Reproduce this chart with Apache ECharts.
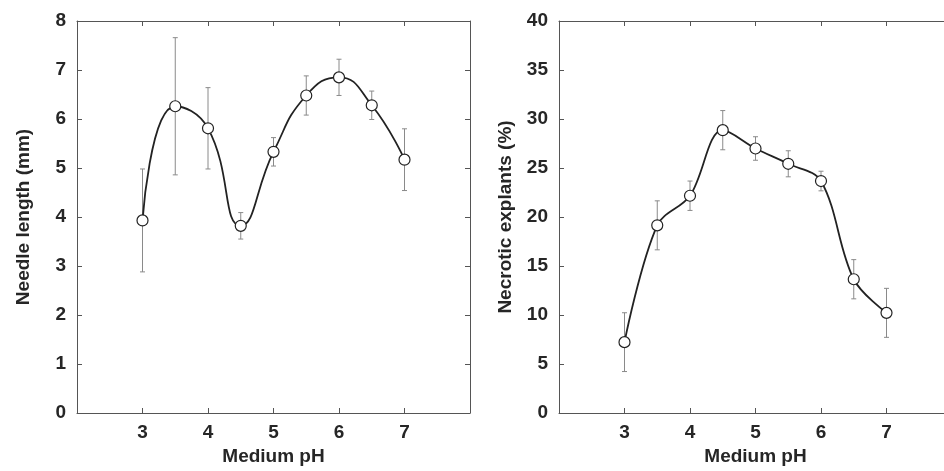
<!DOCTYPE html>
<html>
<head>
<meta charset="utf-8">
<script src="https://cdn.jsdelivr.net/npm/echarts@6/dist/echarts.min.js"></script>
<style>
  html, body { margin: 0; padding: 0; background: #fff; }
  #chart { width: 944px; height: 471px; }
</style>
</head>
<body>
<div id="chart"></div>
<script>
// Medium pH levels tested
const ph = [3, 3.5, 4, 4.5, 5, 5.5, 6, 6.5, 7];
// Needle length (mm), mean and error
const needleLength = [3.93, 6.26, 5.81, 3.82, 5.33, 6.48, 6.85, 6.28, 5.17];
const needleErr = [1.05, 1.4, 0.83, 0.27, 0.29, 0.4, 0.37, 0.29, 0.63];
// Necrotic explants (%), mean and error
const necrotic = [7.23, 19.15, 22.17, 28.86, 26.99, 25.43, 23.67, 13.65, 10.22];
const necroticErr = [3.0, 2.5, 1.5, 2.0, 1.2, 1.33, 1.0, 2.0, 2.5];

const FONT = '"Liberation Sans", Arial, Helvetica, sans-serif';
const TEXT = '#262626';
const FRAME = '#555';
const FS = 19;

const chart = echarts.init(document.getElementById('chart'), null, { renderer: 'canvas' });

function pairs(ys) { return ph.map((x, i) => [x, ys[i]]); }
function errRows(ys, es) { return ph.map((x, i) => [x, ys[i] - es[i], ys[i] + es[i]]); }

// Vertical error bar with short caps at both ends
function errorBarItem(params, api) {
  const x = api.value(0);
  const lo = api.coord([x, api.value(1)]);
  const hi = api.coord([x, api.value(2)]);
  const w = 2.5;
  const style = { stroke: '#8a8a8a', lineWidth: 1 };
  return {
    type: 'group',
    children: [
      { type: 'line', shape: { x1: lo[0], y1: lo[1], x2: hi[0], y2: hi[1] }, style },
      { type: 'line', shape: { x1: lo[0] - w, y1: lo[1], x2: lo[0] + w, y2: lo[1] }, style },
      { type: 'line', shape: { x1: hi[0] - w, y1: hi[1], x2: hi[0] + w, y2: hi[1] }, style }
    ]
  };
}

function xAxis(gridIndex, position, showLabels) {
  return {
    gridIndex, type: 'value', position, min: 2, max: 8, interval: 1,
    name: showLabels ? 'Medium pH' : '', nameLocation: 'middle', nameGap: 31,
    nameTextStyle: { fontFamily: FONT, fontWeight: 'bold', fontSize: FS, color: TEXT },
    axisLine: { show: true, onZero: false, lineStyle: { color: FRAME, width: 1 } },
    axisTick: { show: true, inside: true, length: 5, lineStyle: { color: FRAME } },
    axisLabel: {
      show: showLabels, fontFamily: FONT, fontWeight: 'bold', fontSize: FS, color: TEXT, margin: 10,
      formatter: v => (v >= 3 && v <= 7 ? String(v) : '')
    },
    splitLine: { show: false }
  };
}

function yAxis(gridIndex, position, max, interval, name, showLabels) {
  return {
    gridIndex, type: 'value', position, min: 0, max, interval,
    name: showLabels ? name : '', nameLocation: 'middle', nameGap: 44,
    nameTextStyle: { fontFamily: FONT, fontWeight: 'bold', fontSize: FS, color: TEXT },
    axisLine: { show: true, onZero: false, lineStyle: { color: FRAME, width: 1 } },
    axisTick: { show: true, inside: true, length: 5, lineStyle: { color: FRAME } },
    axisLabel: { show: showLabels, fontFamily: FONT, fontWeight: 'bold', fontSize: FS, color: TEXT, margin: 11 },
    splitLine: { show: false }
  };
}

const lineSeries = (xi, yi, ys, smooth) => ({
  type: 'line', xAxisIndex: xi, yAxisIndex: yi, data: pairs(ys),
  smooth, z: 5,
  symbol: 'circle', symbolSize: 11,
  lineStyle: { color: '#222', width: 1.8 },
  itemStyle: { color: '#fff', borderColor: '#222', borderWidth: 1.2 },
  emphasis: { disabled: true }
});

const errSeries = (xi, yi, ys, es) => ({
  type: 'custom', xAxisIndex: xi, yAxisIndex: yi, data: errRows(ys, es),
  renderItem: errorBarItem, z: 2, silent: true,
  encode: { x: 0, y: [1, 2] }
});

chart.setOption({
  animation: false,
  backgroundColor: '#fff',
  grid: [
    { left: 77, top: 21, right: 474, height: 392, outerBoundsMode: 'none', containLabel: false },
    { left: 559, top: 21, right: -8, height: 392, outerBoundsMode: 'none', containLabel: false }
  ],
  xAxis: [
    xAxis(0, 'bottom', true), xAxis(0, 'top', false),
    xAxis(1, 'bottom', true), xAxis(1, 'top', false)
  ],
  yAxis: [
    yAxis(0, 'left', 8, 1, 'Needle length (mm)', true), yAxis(0, 'right', 8, 1, '', false),
    yAxis(1, 'left', 40, 5, 'Necrotic explants (%)', true), yAxis(1, 'right', 40, 5, '', false)
  ],
  series: [
    errSeries(0, 0, needleLength, needleErr),
    lineSeries(0, 0, needleLength, 0.5),
    errSeries(2, 2, necrotic, necroticErr),
    lineSeries(2, 2, necrotic, 0.35)
  ]
});
</script>
</body>
</html>
